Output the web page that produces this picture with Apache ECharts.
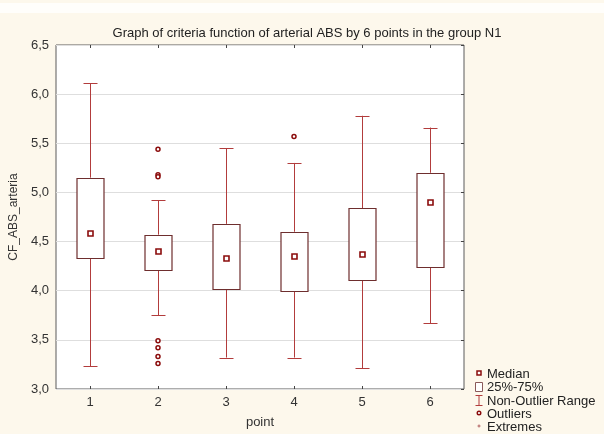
<!DOCTYPE html>
<html>
<head>
<meta charset="utf-8">
<script src="https://cdn.jsdelivr.net/npm/echarts@6/dist/echarts.min.js"></script>
<style>
  html, body { margin: 0; padding: 0; background: #fdf8ec; }
  #chart { width: 604px; height: 434px; }
</style>
</head>
<body>
<div id="chart"></div>
<script>
// box plot values
var categories = ['1', '2', '3', '4', '5', '6'];
var whiskerLow = [3.23, 3.75, 3.32, 3.32, 3.21, 3.67];
var q1 = [4.33, 4.21, 4.02, 4.00, 4.11, 4.24];
var median = [4.59, 4.40, 4.33, 4.35, 4.37, 4.90];
var q3 = [5.15, 4.57, 4.68, 4.60, 4.84, 5.20];
var whiskerHigh = [6.11, 4.92, 5.45, 5.30, 5.78, 5.66];
var outlierPoint = [1, 1, 1, 1, 1, 1, 1, 3];
var outlierValue = [5.44, 5.18, 5.16, 3.49, 3.42, 3.33, 3.26, 5.57];

var boxData = [];
for (var i = 0; i < categories.length; i++) {
    boxData.push([i, whiskerLow[i], q1[i], median[i], q3[i], whiskerHigh[i]]);
}
var outlierData = [];
for (var j = 0; j < outlierValue.length; j++) {
    outlierData.push([outlierPoint[j], outlierValue[j]]);
}

var whiskerColor = '#b23c3c';
var boxColor = '#6e2e2e';
var markColor = '#8b0c0c';

function renderBox(params, api) {
    var i = api.value(0);
    var lo = api.coord([i, api.value(1)]);
    var b = api.coord([i, api.value(2)]);
    var m = api.coord([i, api.value(3)]);
    var t = api.coord([i, api.value(4)]);
    var hi = api.coord([i, api.value(5)]);
    var x = Math.round(lo[0]) + 0.5;
    var hw = 13.5, cap = 7;
    var wStyle = { stroke: whiskerColor, lineWidth: 1 };
    return {
        type: 'group',
        children: [
            { type: 'line', shape: { x1: x, y1: hi[1], x2: x, y2: t[1] }, style: wStyle },
            { type: 'line', shape: { x1: x, y1: b[1], x2: x, y2: lo[1] }, style: wStyle },
            { type: 'line', shape: { x1: x - cap, y1: Math.round(hi[1]) + 0.5, x2: x + cap, y2: Math.round(hi[1]) + 0.5 }, style: wStyle },
            { type: 'line', shape: { x1: x - cap, y1: Math.round(lo[1]) + 0.5, x2: x + cap, y2: Math.round(lo[1]) + 0.5 }, style: wStyle },
            { type: 'rect', shape: { x: x - hw, y: Math.round(t[1]) + 0.5, width: hw * 2, height: Math.round(b[1]) - Math.round(t[1]) },
              style: { fill: '#fff', stroke: boxColor, lineWidth: 1.2 } },
            { type: 'rect', shape: { x: x - 2.5, y: Math.round(m[1]) - 2, width: 5, height: 5 },
              style: { fill: '#fff', stroke: markColor, lineWidth: 1.6 } }
        ]
    };
}

var myChart = echarts.init(document.getElementById('chart'));
var font = 'Liberation Sans, Arial, sans-serif';
var legendX = 475, legendTextX = 487;
function legendText(label, y) {
    return { type: 'text', x: legendTextX, y: y,
        style: { text: label, fill: '#222', font: '13px ' + font, verticalAlign: 'middle' } };
}
var option = {
    backgroundColor: '#fdf8ec',
    animation: false,
    title: {
        text: 'Graph of criteria function of arterial ABS by 6 points in the group N1',
        left: 302, top: 22, textAlign: 'center',
        textStyle: { fontSize: 13, fontWeight: 'normal', color: '#222', fontFamily: font }
    },
    grid: {
        left: 55, right: 140, top: 45, bottom: 42,
        show: true, backgroundColor: '#fff', borderColor: '#5a5a5a', borderWidth: 1
    },
    xAxis: [{
        type: 'category', data: categories, position: 'bottom',
        name: 'point', nameLocation: 'middle', nameGap: 27,
        nameTextStyle: { fontSize: 13, color: '#333', fontFamily: font },
        axisLine: { show: false },
        axisTick: { show: true, inside: true, length: 3, alignWithLabel: true, lineStyle: { color: '#444' } },
        axisLabel: { fontSize: 13, color: '#333', fontFamily: font, margin: 7 },
        splitLine: { show: false }
    }, {
        type: 'category', data: categories, position: 'top',
        axisLine: { show: false },
        axisTick: { show: true, inside: true, length: 3, alignWithLabel: true, lineStyle: { color: '#444' } },
        axisLabel: { show: false }
    }],
    yAxis: [{
        type: 'value', min: 3, max: 6.5, interval: 0.5, position: 'left',
        name: 'CF_ABS_arteria', nameLocation: 'middle', nameGap: 36,
        nameTextStyle: { fontSize: 12, color: '#333', fontFamily: font },
        axisLine: { show: false },
        axisTick: { show: false },
        axisLabel: {
            fontSize: 13, color: '#333', fontFamily: font, margin: 7,
            formatter: function (v) { return v.toFixed(1).replace('.', ','); }
        },
        splitLine: { show: true, lineStyle: { color: '#dedede' } }
    }, {
        type: 'value', min: 3, max: 6.5, interval: 0.5, position: 'right',
        axisLine: { show: false },
        axisTick: { show: true, inside: true, length: 3, lineStyle: { color: '#444' } },
        axisLabel: { show: false },
        splitLine: { show: false }
    }],
    series: [{
        type: 'custom', name: 'box',
        renderItem: renderBox,
        encode: { x: 0, y: [1, 2, 3, 4, 5] },
        data: boxData, z: 3
    }, {
        type: 'scatter', name: 'Outliers',
        symbol: 'circle', symbolSize: 4,
        itemStyle: { color: '#fff', borderColor: markColor, borderWidth: 1.5, opacity: 1 },
        data: outlierData, z: 4
    }],
    graphic: [
        { type: 'rect', shape: { x: 0, y: 3, width: 604, height: 10 }, style: { fill: '#fffefb' } },
        // legend
        { type: 'rect', shape: { x: legendX + 2, y: 371, width: 4, height: 4 }, style: { fill: '#fff', stroke: markColor, lineWidth: 1.5 } },
        legendText('Median', 374),
        { type: 'rect', shape: { x: legendX + 0.5, y: 382.5, width: 7, height: 9 }, style: { fill: '#fff', stroke: '#8a5a5a', lineWidth: 1 } },
        legendText('25%-75%', 387),
        { type: 'line', shape: { x1: legendX + 0.5, y1: 395.5, x2: legendX + 7.5, y2: 395.5 }, style: { stroke: whiskerColor, lineWidth: 1 } },
        { type: 'line', shape: { x1: legendX + 4, y1: 395.5, x2: legendX + 4, y2: 405.5 }, style: { stroke: whiskerColor, lineWidth: 1 } },
        { type: 'line', shape: { x1: legendX + 0.5, y1: 405.5, x2: legendX + 7.5, y2: 405.5 }, style: { stroke: whiskerColor, lineWidth: 1 } },
        legendText('Non-Outlier Range', 401),
        { type: 'circle', shape: { cx: legendX + 4, cy: 413, r: 1.8 }, style: { fill: '#fff', stroke: markColor, lineWidth: 1.4 } },
        legendText('Outliers', 414),
        { type: 'line', shape: { x1: legendX + 2.5, y1: 426, x2: legendX + 5.5, y2: 426 }, style: { stroke: '#b06060', lineWidth: 1 } },
        { type: 'line', shape: { x1: legendX + 4, y1: 424.5, x2: legendX + 4, y2: 427.5 }, style: { stroke: '#b06060', lineWidth: 1 } },
        legendText('Extremes', 427)
    ]
};
myChart.setOption(option);
</script>
</body>
</html>
